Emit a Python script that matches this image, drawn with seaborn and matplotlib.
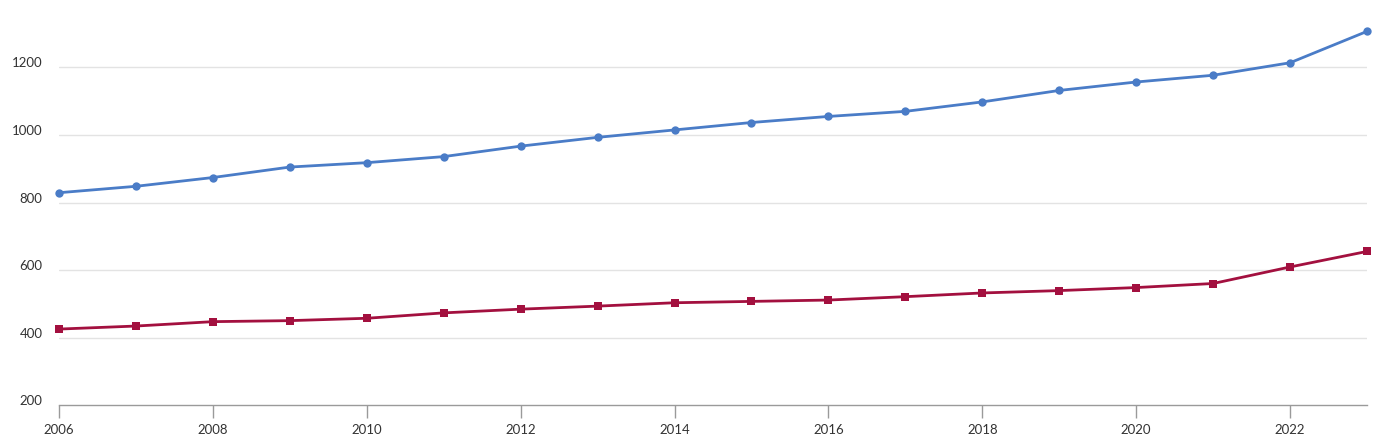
import matplotlib
matplotlib.use("Agg")
import matplotlib.pyplot as plt
from matplotlib.transforms import ScaledTranslation
import seaborn as sns
import pandas as pd

years = list(range(2006, 2024))
series_a = [829, 848, 874, 905, 918, 936, 967, 993, 1015, 1037, 1055, 1070,
            1098, 1132, 1157, 1177, 1214, 1307]
series_b = [425, 434, 447, 450, 457, 473, 484, 493, 503, 507, 511, 521,
            532, 539, 548, 560, 609, 655]
y_ticks = [200, 400, 600, 800, 1000, 1200]
x_ticks = list(range(2006, 2024, 2))

df = pd.DataFrame({
    "year": years * 2,
    "value": series_a + series_b,
    "series": ["A"] * len(years) + ["B"] * len(years),
})

sns.set_theme(style="white")
plt.rcParams["font.family"] = ["Lato", "DejaVu Sans"]

fig = plt.figure(figsize=(13.79, 4.38), dpi=100)
ax = fig.add_axes([0.0428, 0.0753, 0.9485, 0.8785])

blue = "#4a7cc7"
red = "#a3103f"
sns.lineplot(data=df, x="year", y="value", hue="series", style="series",
             palette={"A": blue, "B": red},
             markers={"A": "o", "B": "s"}, dashes=False,
             markersize=6, markeredgewidth=0, linewidth=2, legend=False, ax=ax)
for ln in ax.lines:
    ln.set_clip_on(False)

ax.set_xlim(2006, 2023)
ax.set_ylim(200, 1340)
ax.set_xticks(x_ticks)
ax.set_xticklabels([str(x) for x in x_ticks])
ax.set_yticks(y_ticks)
ax.set_yticklabels([str(y) for y in y_ticks])
ax.set_xlabel("")
ax.set_ylabel("")

for yv in y_ticks[1:]:
    ax.axhline(yv, color="#e3e3e3", linewidth=1, zorder=0)

for s in ["top", "right", "left"]:
    ax.spines[s].set_visible(False)
ax.spines["bottom"].set_color("#9a9a9a")
ax.spines["bottom"].set_linewidth(1)

ax.tick_params(axis="x", which="major", length=9, width=1, color="#9a9a9a",
               direction="out", bottom=True, labelsize=9.5, labelcolor="#333333", pad=5)
ax.tick_params(axis="y", which="major", length=0, left=False,
               labelsize=9.5, labelcolor="#333333", pad=12)

off = ScaledTranslation(0, 0.05, fig.dpi_scale_trans)
for lab in ax.get_yticklabels():
    lab.set_transform(lab.get_transform() + off)

ax.set_facecolor("white")
fig.patch.set_facecolor("white")
fig.savefig("out.png", dpi=100, facecolor="white")
